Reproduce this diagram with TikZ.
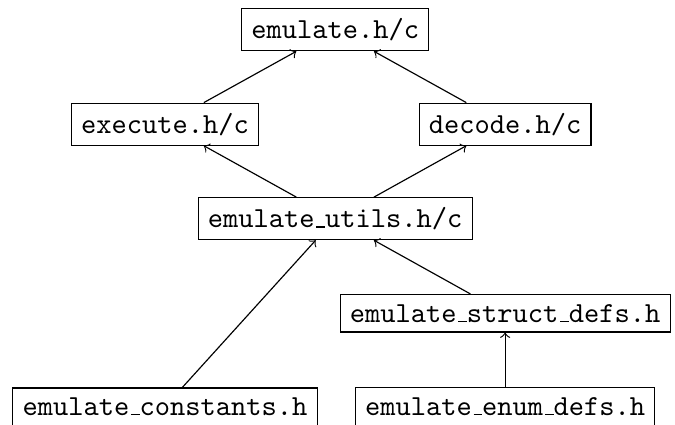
\documentclass[tikz,border=0pt]{standalone}
\usetikzlibrary{positioning}
% underscore drawn as a short baseline rule, as in classic typewriter text
\newcommand{\us}{\leavevmode\kern.06em\vbox{\hrule width.3em}}
\tikzset{
  file/.style={draw, font=\ttfamily, inner sep=3.333pt},
  dep/.style={->}
}
\begin{document}
\begin{tikzpicture}[x=1pt,y=1pt]
  \useasboundingbox (0,0) rectangle (232.4,-146);
  % header files and their dependency levels
  \node[file] (emul)   at (115.4,-10.26)  {emulate.h/c};
  \node[file] (exec)   at (56.8,-42.75)   {execute.h/c};
  \node[file] (decode) at (173.9,-42.75)  {decode.h/c};
  \node[file] (utils)  at (115.4,-75.3)   {emulate\us utils.h/c};
  \node[file] (struct) at (173.9,-107.85) {emulate\us struct\us defs.h};
  \node[file] (const)  at (56.8,-140.0)   {emulate\us constants.h};
  \node[file] (enum)   at (173.9,-140.0)  {emulate\us enum\us defs.h};
  % includes point upwards
  \draw[dep] (exec)   -- (emul);
  \draw[dep] (decode) -- (emul);
  \draw[dep] (utils)  -- (exec);
  \draw[dep] (utils)  -- (decode);
  \draw[dep] (const)  -- (utils);
  \draw[dep] (struct) -- (utils);
  \draw[dep] (enum)   -- (struct);
\end{tikzpicture}
\end{document}
